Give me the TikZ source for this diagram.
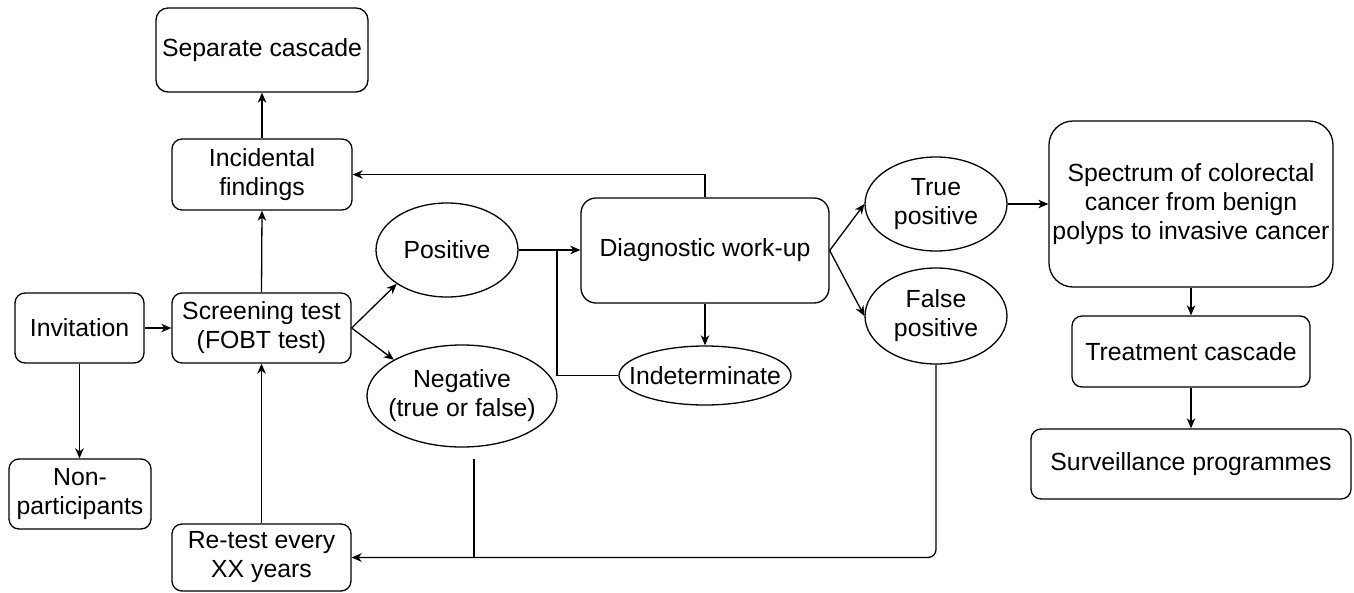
\documentclass[tikz,border=0pt]{standalone}
\usepackage{fontspec}
\setmainfont{Liberation Sans}
\usetikzlibrary{arrows.meta,shapes.geometric}
\begin{document}
\begin{tikzpicture}[x=1pt,y=-1pt,
  every node/.style={font=\fontsize{24.8}{29}\selectfont, align=center, inner sep=2pt, line width=1.3pt, text=black},
  box/.style args={#1/#2/#3}{draw, rectangle, rounded corners=#3pt, minimum width=#1pt, minimum height=#2pt},
  ell/.style args={#1/#2}{draw, ellipse, minimum width=#1pt, minimum height=#2pt, inner sep=0pt},
  arr/.style={line width=1.3pt, -{Stealth[length=10pt,width=8.5pt,inset=3pt]}},
  ln/.style={line width=1.3pt}]
\useasboundingbox (0,0) rectangle (1354,592);

% rectangles
\node[box=212/84/12] (sep) at (262,50) {Separate cascade};
\node[box=180/71/10] (inc) at (262,174.5) {Incidental\\findings};
\node[box=129/70/10] (inv) at (79.5,328) {Invitation};
\node[box=179/70/10] (scr) at (261.5,328) {Screening test\\(FOBT test)};
\node[box=142/70/10] (non) at (80,494) {Non-\\participants};
\node[box=179/67/10] (ret) at (261.5,557.5) {Re-test every\\XX years};
\node[box=248/105/15] (diag) at (705,250.5) {Diagnostic work-up};
\node[box=284/166/24] (spec) at (1191,204) {Spectrum of colorectal\\cancer from benign\\polyps to invasive cancer};
\node[box=238/71/10] (treat) at (1191,351.5) {Treatment cascade};
\node[box=320/70/10] (surv) at (1191,464) {Surveillance programmes};

% ellipses
\node[ell=142/94, label={center:Positive}] (pos) at (447,250) {};
\node[ell=190/102, label={center:Negative\\(true or false)}] (neg) at (462,396) {};
\node[ell=172/59, label={center:Indeterminate}] (ind) at (705,375.5) {};
\node[ell=142/94, label={center:True\\positive}] (tp) at (936,204) {};
\node[ell=142/96, label={center:False\\positive}] (fp) at (936,316) {};

% helper coordinates
\coordinate (j) at (557,250);
\coordinate (nb) at (474,459);

% connectors
\draw[arr] (inv.east) -- (scr.west);
\draw[arr] (inv.south) -- (inv.south |- non.north);
\draw[arr] (scr.north) -- (inc.south);
\draw[arr] (inc.north) -- (sep.south);
\draw[arr] (ret.north) -- (scr.south);
\draw[arr] (scr.east) -- (pos.214);
\draw[arr] (scr.east) -- (neg.152);
\draw[arr] (pos.east) -- (pos.east -| diag.west);
\draw[ln] (ind.west) -| (j);
\draw[arr] (diag.north) |- (inc.east);
\draw[arr] (diag.south) -- (ind.north);
\draw[arr] (diag.east) -- (tp.west);
\draw[arr] (diag.east) -- (fp.west);
\draw[arr] (tp.east) -- (tp.east -| spec.west);
\draw[arr] (spec.south) -- (treat.north);
\draw[arr] (treat.south) -- (surv.north);
\draw[arr, rounded corners=8pt] (fp.south) |- (ret.east);
\draw[ln] (nb) -- (nb |- ret.east);
\end{tikzpicture}
\end{document}
